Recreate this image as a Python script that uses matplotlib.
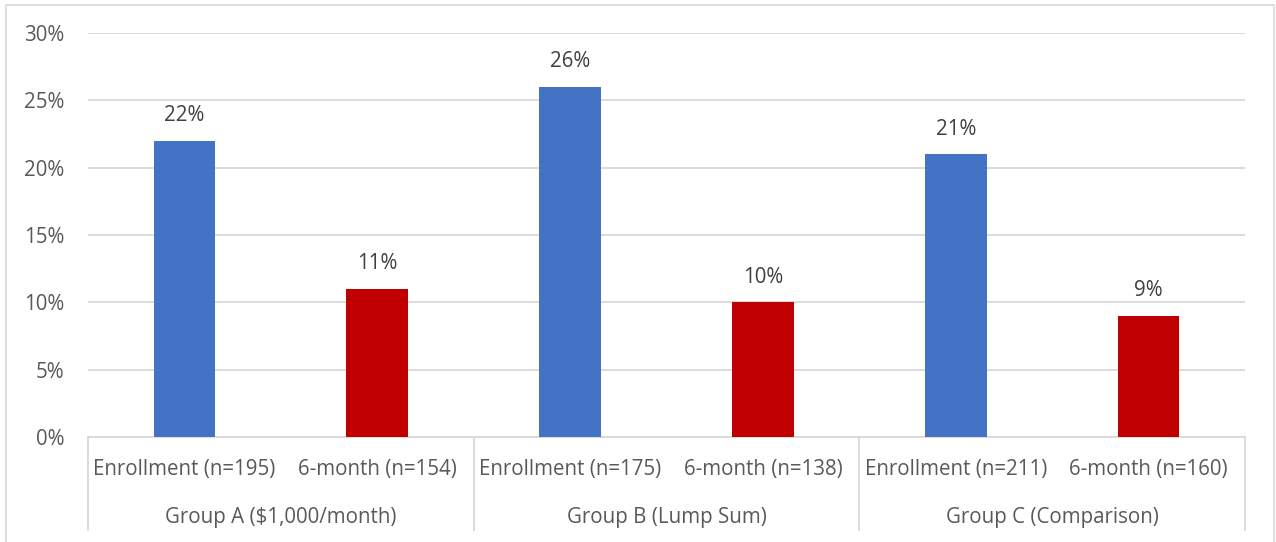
import matplotlib
matplotlib.use("Agg")
import matplotlib.pyplot as plt
import matplotlib.patches as mpatches
from matplotlib.lines import Line2D
from matplotlib.ticker import PercentFormatter

plt.rcParams['font.family'] = ['Open Sans', 'DejaVu Sans']

# 데이터
groups = ['Group A ($1,000/month)', 'Group B (Lump Sum)', 'Group C (Comparison)']
bar_labels = ['Enrollment (n=195)', '6-month (n=154)',
              'Enrollment (n=175)', '6-month (n=138)',
              'Enrollment (n=211)', '6-month (n=160)']
values = [0.22, 0.11, 0.26, 0.10, 0.21, 0.09]
colors = ['#4472C4', '#C00000'] * 3
yticks = [0, 0.05, 0.10, 0.15, 0.20, 0.25, 0.30]

W, H = 1276, 542
FS = 14.8
fig = plt.figure(figsize=(W / 100, H / 100), dpi=100)
ax = fig.add_axes([88 / W, (H - 437) / H, 1157 / W, 404 / H])

# 외곽 테두리
frame = mpatches.Rectangle((6 / W, -0.05), 1268 / W, 1.05 - 5 / H,
                           transform=fig.transFigure, fill=False,
                           edgecolor='#D9D9D9', linewidth=1.2, clip_on=False)
fig.patches.append(frame)

x = list(range(len(values)))
ax.bar(x, values, width=0.32, color=colors, zorder=3)

for xi, v in zip(x, values):
    ax.annotate(f'{v * 100:.0f}%', (xi, v), xytext=(0, 10.5), textcoords='offset points',
                ha='center', va='bottom', fontsize=FS, color='#404040')

ax.set_xlim(-0.5, len(values) - 0.5)
ax.set_ylim(0, 0.30)
ax.set_yticks(yticks)
ax.yaxis.set_major_formatter(PercentFormatter(1.0, decimals=0))
ax.tick_params(axis='y', length=0, pad=17, labelsize=FS, labelcolor='#595959')
ax.set_xticks([])
ax.grid(axis='y', color='#D9D9D9', linewidth=1.3, zorder=0)
for s in ['top', 'right', 'left']:
    ax.spines[s].set_visible(False)
ax.spines['bottom'].set_color('#D9D9D9')
ax.spines['bottom'].set_linewidth(1.3)

# 카테고리 라벨 (2단)
tr = ax.get_xaxis_transform()
for xi, lab in zip(x, bar_labels):
    ax.text(xi, -33 / 404, lab, transform=tr, ha='center', va='center',
            fontsize=FS, color='#595959', clip_on=False)
for i, g in enumerate(groups):
    ax.text(2 * i + 0.5, -80 / 404, g, transform=tr, ha='center', va='center',
            fontsize=FS, color='#595959', clip_on=False)

# 그룹 구분선
for b in [-0.5, 1.5, 3.5, 5.5]:
    ax.add_line(Line2D([b, b], [0, -93 / 404], transform=tr, color='#D9D9D9',
                       linewidth=1.3, clip_on=False))

fig.savefig('out.png', dpi=100)
